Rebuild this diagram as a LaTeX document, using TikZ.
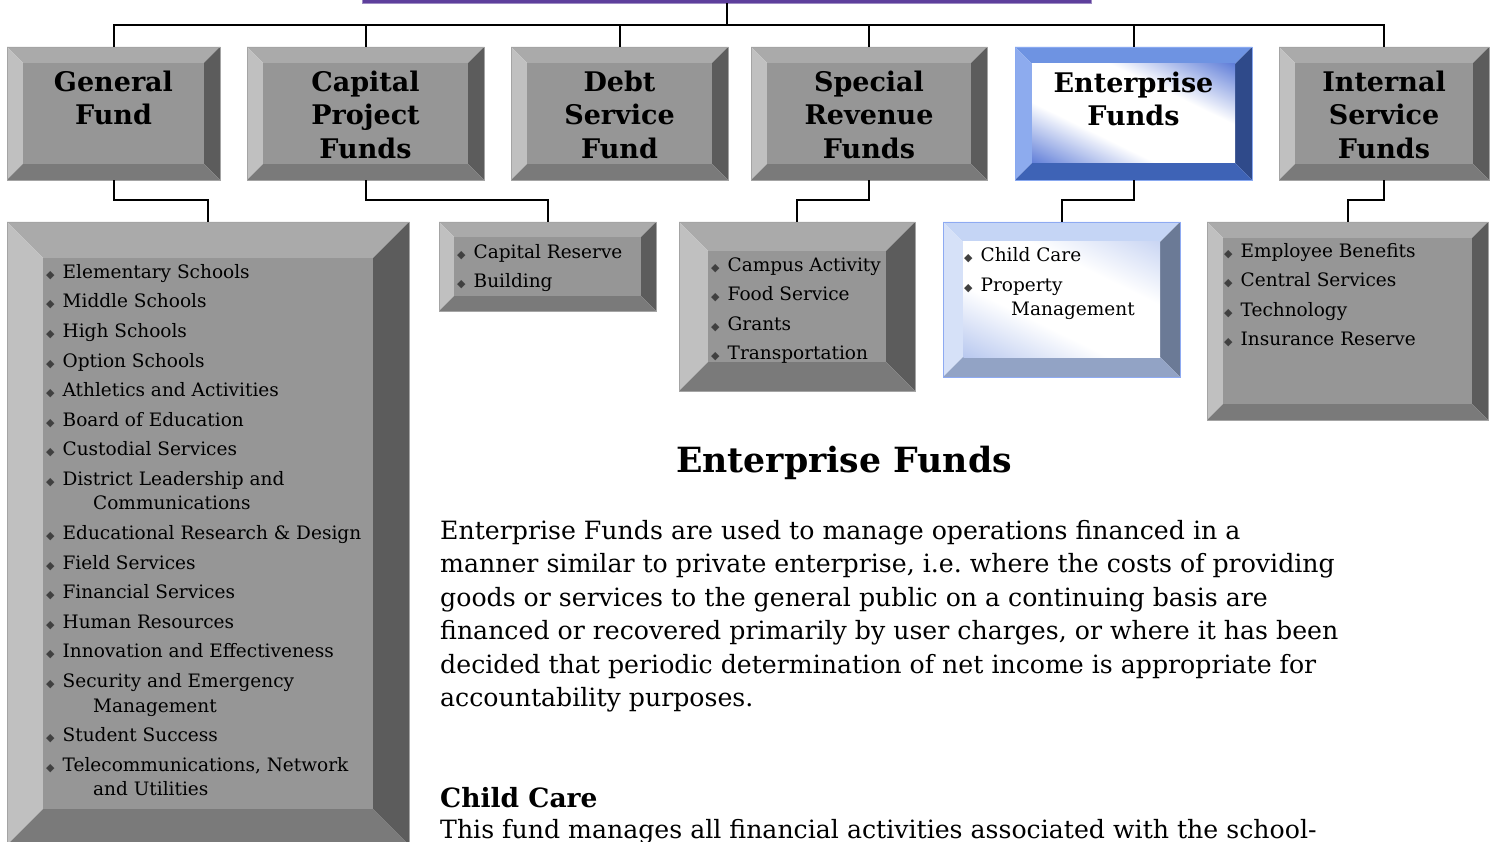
\documentclass[tikz,border=0pt]{standalone}
\usepackage{fontspec}
\setmainfont{DejaVu Serif}
\newfontfamily\bulletfont{DejaVu Sans}
\usetikzlibrary{positioning,calc}

% grey bevel
\definecolor{gTop}{HTML}{AAAAAA}
\definecolor{gLeft}{HTML}{C0C0C0}
\definecolor{gRight}{HTML}{5C5C5C}
\definecolor{gBot}{HTML}{7A7A7A}
\definecolor{gFace}{HTML}{969696}
\definecolor{gLine}{HTML}{A4A4A4}
% enterprise fund bevel
\definecolor{eTop}{HTML}{6E93E2}
\definecolor{eLeft}{HTML}{8DABEE}
\definecolor{eRight}{HTML}{2F4A8A}
\definecolor{eBot}{HTML}{3E63B6}
\definecolor{eDeep}{HTML}{4F70D4}
\definecolor{eLine}{HTML}{88A8F0}
% enterprise list bevel
\definecolor{cTop}{HTML}{C5D5F5}
\definecolor{cLeft}{HTML}{D6E1F8}
\definecolor{cRight}{HTML}{6B7A96}
\definecolor{cBot}{HTML}{92A3C5}
\definecolor{cDeep}{HTML}{B8C8EF}
\definecolor{cLine}{HTML}{8EAAF2}
\definecolor{topPurple}{HTML}{5E3F9C}

\pgfdeclarehorizontalshading{eshade}{100bp}{color(0bp)=(eDeep); color(25bp)=(eDeep);
  color(41bp)=(white); color(59bp)=(white); color(75bp)=(eDeep); color(100bp)=(eDeep)}
\pgfdeclarehorizontalshading{cshade}{100bp}{color(0bp)=(cDeep); color(25bp)=(cDeep);
  color(42bp)=(white); color(60bp)=(white); color(75bp)=(cDeep!75!white); color(100bp)=(cDeep!75!white)}

\tikzset{
  box/.style={rectangle, inner sep=0pt, line width=0.8pt},
  fund/.style={font=\fontsize{27}{33.5}\selectfont\bfseries, align=center, anchor=north, inner sep=0pt},
  items/.style={font=\fontsize{18.5}{24.5}\selectfont, align=left, anchor=north west, inner sep=0pt},
  link/.style={draw=black, line width=2pt},
  heading/.style={font=\fontsize{34.7}{40}\selectfont\bfseries, anchor=north, inner sep=0pt},
  para/.style={font=\fontsize{25.2}{33.5}\selectfont, align=left, anchor=north west, inner sep=0pt},
}

\newcommand{\itm}{{\bulletfont\fontsize{11}{11}\selectfont\textcolor{black!75}{◆}}\hspace{8pt}}

% face of a bevel box: flat grey, or a diagonal glow
\newcommand{\gface}[4]{\fill[gFace] (#1,#2) rectangle (#3,#4);}
\newcommand{\glowface}[5]{%
  \begin{scope}
    \clip (#2,#3) rectangle (#4,#5);
    \begin{scope}[transform canvas={rotate around={64:({(#2+#4)/2},{(#3+#5)/2})}}]
      \shade[shading=#1] ({(#2+#4)/2-95},{(#3+#5)/2-160}) rectangle ({(#2+#4)/2+95},{(#3+#5)/2+160});
    \end{scope}
  \end{scope}}
\newcommand{\eface}[4]{\glowface{eshade}{#1}{#2}{#3}{#4}}
\newcommand{\cface}[4]{\glowface{cshade}{#1}{#2}{#3}{#4}}

% name, scheme, x1, y1, x2, y2, bevel
\newcommand{\bevbox}[7]{%
  \fill[#2Top] (#3,#4) -- (#5,#4) -- (#5-#7,#4+#7) -- (#3+#7,#4+#7) -- cycle;
  \fill[#2Left] (#3,#4) -- (#3+#7,#4+#7) -- (#3+#7,#6-#7) -- (#3,#6) -- cycle;
  \fill[#2Right] (#5,#4) -- (#5-#7,#4+#7) -- (#5-#7,#6-#7) -- (#5,#6) -- cycle;
  \fill[#2Bot] (#3,#6) -- (#3+#7,#6-#7) -- (#5-#7,#6-#7) -- (#5,#6) -- cycle;
  \csname #2face\endcsname{#3+#7}{#4+#7}{#5-#7}{#6-#7}
  \node[box, draw=#2Line, minimum width={(#5-#3)*1pt}, minimum height={(#6-#4)*1pt}]
    (#1) at ({(#3+#5)/2},{(#4+#6)/2}) {};
}

\begin{document}
\begin{tikzpicture}[x=1pt, y=-1pt]
  \useasboundingbox (0,0) rectangle (1494,842);
  \clip (0,0) rectangle (1494,842);
  \fill[white] (0,0) rectangle (1494,842);

  \node[box, fill=topPurple, draw=topPurple!60!white, minimum width=729pt, minimum height=26pt]
    (top) at (726.5,-10) {};

  % fund boxes
  \bevbox{gen}{g}{7}{47}{220}{180}{16}
  \bevbox{cap}{g}{247}{47}{484}{180}{16}
  \bevbox{debt}{g}{511}{47}{728}{180}{16}
  \bevbox{spec}{g}{751}{47}{987}{180}{16}
  \bevbox{ent}{e}{1015}{47}{1252}{180}{17}
  \bevbox{int}{g}{1279}{47}{1489}{180}{16}

  \node[fund] at (113.5,70.5) {General\\Fund};
  \node[fund] at (365.5,70.5) {Capital\\Project\\Funds};
  \node[fund] at (619.5,70.5) {Debt\\Service\\Fund};
  \node[fund] at (869,70.5) {Special\\Revenue\\Funds};
  \node[fund] at (1133.5,71.5) {Enterprise\\Funds};
  \node[fund] at (1384,70.5) {Internal\\Service\\Funds};

  % list boxes
  \bevbox{genlist}{g}{7}{222}{409}{845}{36}
  \bevbox{caplist}{g}{439}{222}{656}{311}{15}
  \bevbox{speclist}{g}{679}{222}{915}{391}{29}
  \bevbox{entlist}{c}{943}{222}{1180}{377}{20}
  \bevbox{intlist}{g}{1207}{222}{1488}{420}{16}

  \node[items] at (46,264) {\itm Elementary Schools\\[5.1pt]
    \itm Middle Schools\\[5.1pt]
    \itm High Schools\\[5.1pt]
    \itm Option Schools\\[5.1pt]
    \itm Athletics and Activities\\[5.1pt]
    \itm Board of Education\\[5.1pt]
    \itm Custodial Services\\[5.1pt]
    \itm District Leadership and\\\hspace*{47pt}Communications\\[5.1pt]
    \itm Educational Research \& Design\\[5.1pt]
    \itm Field Services\\[5.1pt]
    \itm Financial Services\\[5.1pt]
    \itm Human Resources\\[5.1pt]
    \itm Innovation and Effectiveness\\[5.1pt]
    \itm Security and Emergency\\\hspace*{47pt}Management\\[5.1pt]
    \itm Student Success\\[5.1pt]
    \itm Telecommunications, Network\\\hspace*{47pt}and Utilities};
  \node[items] at (457,244) {\itm Capital Reserve\\[5pt]\itm Building};
  \node[items] at (711,257.5) {\itm Campus Activity\\[5pt]\itm Food Service\\[5pt]
    \itm Grants\\[5pt]\itm Transportation};
  \node[items] at (964,247) {\itm Child Care\\[5.5pt]\itm Property\\\hspace*{47pt}Management};
  \node[items] at (1224,243) {\itm Employee Benefits\\[5pt]\itm Central Services\\[5pt]
    \itm Technology\\[5pt]\itm Insurance Reserve};

  % connectors
  \foreach \f in {gen,cap,debt,spec,ent,int}
    \draw[link] (top.south) -- ++(0,22) -| (\f.north);
  \foreach \a/\b in {gen/genlist,cap/caplist,spec/speclist,ent/entlist,int/intlist}
    \draw[link] (\a.south) -- ++(0,20) -| (\b.north);

  % description
  \node[heading] (ttl) at (844,445.6) {Enterprise Funds};
  \node[para] (desc) at (440,519.8) {Enterprise Funds are used to manage operations financed in a\\
    manner similar to private enterprise, i.e.\ where the costs of providing\\
    goods or services to the general public on a continuing basis are\\
    financed or recovered primarily by user charges, or where it has been\\
    decided that periodic determination of net income is appropriate for\\
    accountability purposes.};
  \node[para, font=\fontsize{26.5}{30}\selectfont\bfseries] (cc) at (440,787) {Child Care};
  \node[para] (ccdesc) at (440,818.8) {This fund manages all financial activities associated with the school-};
\end{tikzpicture}
\end{document}
